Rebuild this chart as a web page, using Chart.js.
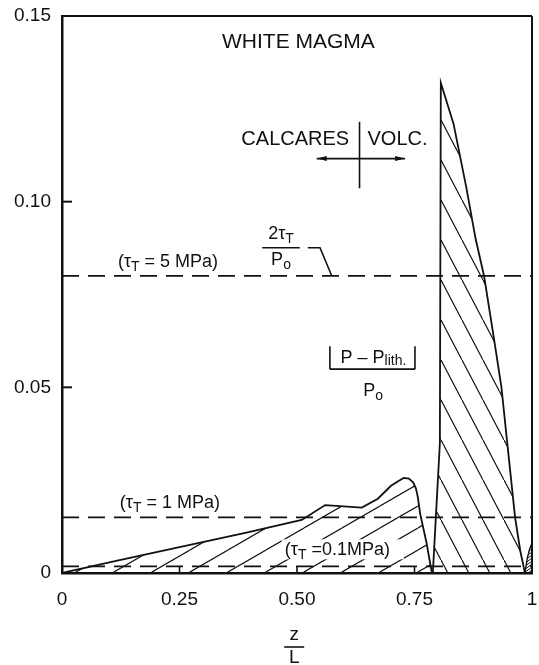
<!DOCTYPE html>
<html>
<head>
<meta charset="utf-8">
<script src="https://cdn.jsdelivr.net/npm/chart.js@4.4.1/dist/chart.umd.min.js"></script>
<style>
  html, body { margin: 0; padding: 0; background: #fff; }
</style>
</head>
<body>
<canvas id="chart" width="539" height="665"></canvas>
<script>
// normalised depth z/L and overpressure |P - Plith.| / Po, calcareous part
const zCalc = [0, 0.12, 0.25, 0.39, 0.51, 0.56, 0.638, 0.672, 0.70, 0.716, 0.727, 0.738, 0.747, 0.753, 0.757, 0.762, 0.775, 0.787];
const pCalc = [0, 0.0034, 0.0070, 0.0108, 0.0143, 0.0183, 0.0176, 0.0200, 0.0235, 0.0248, 0.0256, 0.0254, 0.0244, 0.0228, 0.0205, 0.0160, 0.0085, 0];

// volcanic part (the big spike)
const zVolc = [0.789, 0.804, 0.806, 0.833, 0.860, 0.880, 0.898, 0.918, 0.935, 0.949, 0.964, 0.975, 0.985];
const pVolc = [0, 0.035, 0.132, 0.121, 0.104, 0.090, 0.080, 0.064, 0.050, 0.033, 0.015, 0.006, 0];

// small rise at the top of the conduit
const zTop = [0.985, 0.99, 0.995, 1.0];
const pTop = [0, 0.004, 0.0065, 0.008];

// 2 tauT / Po levels
const tauLevels = [0.08, 0.015, 0.0018];
const tauNames = ['5 MPa', '1 MPa', '0.1 MPa'];

const xTicks = [0, 0.25, 0.5, 0.75, 1];
const yTicks = [0, 0.05, 0.10, 0.15];

const FONT = '"Liberation Sans", Arial, Helvetica, sans-serif';
const INK = '#111';

function toPoints(xs, ys) {
  return xs.map((x, i) => ({ x: x, y: ys[i] }));
}

// hatch tile: lines repeating every w px horizontally and h px vertically
function hatch(w, h, dir, lw) {
  const c = document.createElement('canvas');
  c.width = w; c.height = h;
  const g = c.getContext('2d');
  g.strokeStyle = INK;
  g.lineWidth = lw;
  [-h, 0, h].forEach(dy => {
    g.beginPath();
    if (dir === '/') { g.moveTo(0, h + dy); g.lineTo(w, dy); }
    else { g.moveTo(0, dy); g.lineTo(w, h + dy); }
    g.stroke();
  });
  return g.createPattern(c, 'repeat');
}

// text made of runs, each run: { t, size, dy }
function drawRuns(ctx, x, y, runs, align) {
  let total = 0;
  runs.forEach(r => {
    ctx.font = r.size + 'px ' + FONT;
    r.w = ctx.measureText(r.t).width;
    total += r.w;
  });
  let cx = align === 'center' ? x - total / 2 : (align === 'right' ? x - total : x);
  ctx.textAlign = 'left';
  ctx.textBaseline = 'middle';
  runs.forEach(r => {
    ctx.font = r.size + 'px ' + FONT;
    ctx.fillText(r.t, cx, y + (r.dy || 0));
    cx += r.w;
  });
  return total;
}

function line(ctx, x1, y1, x2, y2, lw) {
  ctx.lineWidth = lw || 1.6;
  ctx.beginPath();
  ctx.moveTo(x1, y1);
  ctx.lineTo(x2, y2);
  ctx.stroke();
}

function arrowHead(ctx, x, y, dir) {
  ctx.beginPath();
  ctx.moveTo(x, y);
  ctx.lineTo(x - dir * 10, y - 2.5);
  ctx.lineTo(x - dir * 10, y + 2.5);
  ctx.closePath();
  ctx.fill();
}

function tauLabel(value) {
  const tight = value.indexOf('0.') === 0;
  return [
    { t: '(τ', size: 18 },
    { t: 'T', size: 14, dy: 5 },
    { t: tight ? ' =' + value.replace(' ', '') + ')' : ' = ' + value + ')', size: 18 }
  ];
}

// white-out behind the 0.1 MPa label so the hatching stops around it
const labelBack = {
  id: 'labelBack',
  afterDatasetDraw(chart, args) {
    if (args.index !== 0) return;
    const ctx = chart.ctx;
    const sx = chart.scales.x, sy = chart.scales.y;
    const x = sx.getPixelForValue(0.474), y = sy.getPixelForValue(0.0061);
    ctx.save();
    ctx.fillStyle = '#fff';
    ctx.fillRect(x - 3, y - 11, 122, 20);
    ctx.restore();
  }
};

const frameAndNotes = {
  id: 'frameAndNotes',
  afterDraw(chart) {
    const ctx = chart.ctx;
    const a = chart.chartArea;
    const sx = chart.scales.x, sy = chart.scales.y;
    const X = v => sx.getPixelForValue(v);
    const Y = v => sy.getPixelForValue(v);
    ctx.save();
    ctx.strokeStyle = INK;
    ctx.fillStyle = INK;

    // top and right edges of the box
    line(ctx, a.left, a.top, a.right, a.top, 2);
    line(ctx, a.right, a.top, a.right, a.bottom, 2);

    // inward tick marks
    yTicks.slice(1, -1).forEach(v => line(ctx, a.left, Y(v), a.left + 10, Y(v), 2));
    xTicks.slice(1, -1).forEach(v => line(ctx, X(v), a.bottom, X(v), a.bottom - 6, 1.6));

    ctx.font = '21px ' + FONT;
    ctx.textAlign = 'center';
    ctx.textBaseline = 'middle';
    ctx.fillText('WHITE MAGMA', X(0.503), Y(0.1430));

    // calcareous / volcanic boundary marker
    ctx.font = '20px ' + FONT;
    ctx.textAlign = 'right';
    ctx.fillText('CALCARES', X(0.611), Y(0.1168));
    ctx.textAlign = 'left';
    ctx.fillText('VOLC.', X(0.650), Y(0.1168));
    line(ctx, X(0.633), Y(0.1215), X(0.633), Y(0.1036), 1.6);
    line(ctx, X(0.542), Y(0.1116), X(0.730), Y(0.1116), 1.6);
    arrowHead(ctx, X(0.542), Y(0.1116), -1);
    arrowHead(ctx, X(0.730), Y(0.1116), 1);

    // labels of the dashed levels
    drawRuns(ctx, X(0.119), Y(0.0838), tauLabel(tauNames[0]), 'left');
    drawRuns(ctx, X(0.123), Y(0.0188), tauLabel(tauNames[1]), 'left');
    drawRuns(ctx, X(0.474), Y(0.0061), tauLabel(tauNames[2]), 'left');

    // 2 tauT / Po with its leader to the 5 MPa line
    const fx = X(0.466), fy = Y(0.0876);
    drawRuns(ctx, fx, fy - 14, [{ t: '2τ', size: 18 }, { t: 'T', size: 14, dy: 5 }], 'center');
    line(ctx, X(0.426), fy, X(0.506), fy, 1.6);
    drawRuns(ctx, fx, fy + 12, [{ t: 'P', size: 18 }, { t: 'o', size: 14, dy: 5 }], 'center');
    ctx.beginPath();
    ctx.lineWidth = 1.6;
    ctx.moveTo(X(0.523), fy);
    ctx.lineTo(X(0.549), fy);
    ctx.lineTo(X(0.574), Y(tauLevels[0]));
    ctx.stroke();

    // |P - Plith.| / Po
    const l = X(0.570), r = X(0.751), ty = Y(0.0578), uy = Y(0.0549);
    drawRuns(ctx, (l + r) / 2 + 1, ty, [{ t: 'P – P', size: 18 }, { t: 'lith.', size: 14, dy: 3 }], 'center');
    line(ctx, l, ty - 12, l, uy, 1.6);
    line(ctx, r, ty - 12, r, uy, 1.6);
    line(ctx, l, uy, r, uy, 1.6);
    drawRuns(ctx, X(0.662), Y(0.0490), [{ t: 'P', size: 18 }, { t: 'o', size: 14, dy: 5 }], 'center');

    // z / L under the axis
    const zx = X(0.494);
    ctx.font = '19px ' + FONT;
    ctx.textAlign = 'center';
    ctx.textBaseline = 'middle';
    ctx.fillText('z', zx, a.bottom + 62);
    line(ctx, zx - 10, a.bottom + 74, zx + 10, a.bottom + 74, 1.6);
    ctx.fillText('L', zx, a.bottom + 85);
    ctx.restore();
  }
};

const levelSets = tauLevels.map(v => ({
  data: [{ x: 0, y: v }, { x: 1, y: v }],
  borderColor: INK,
  borderWidth: 1.8,
  borderDash: [17, 9],
  pointRadius: 0,
  fill: false
}));

new Chart(document.getElementById('chart'), {
  type: 'line',
  data: {
    datasets: [
      {
        data: toPoints(zCalc, pCalc),
        borderColor: INK,
        borderWidth: 1.8,
        backgroundColor: hatch(38, 22, '/', 1.2),
        fill: 'origin',
        pointRadius: 0,
        tension: 0
      },
      {
        data: toPoints(zVolc, pVolc),
        borderColor: INK,
        borderWidth: 1.8,
        backgroundColor: hatch(21, 40, '\\', 1.2),
        fill: 'origin',
        pointRadius: 0,
        tension: 0
      },
      {
        data: toPoints(zTop, pTop),
        borderColor: INK,
        borderWidth: 1.4,
        backgroundColor: hatch(4, 3, '/', 1),
        fill: 'origin',
        pointRadius: 0,
        tension: 0
      }
    ].concat(levelSets)
  },
  options: {
    responsive: false,
    animation: false,
    events: [],
    layout: { padding: { top: 16, right: 7, left: 0, bottom: 0 } },
    plugins: {
      legend: { display: false },
      tooltip: { enabled: false },
      title: { display: false }
    },
    scales: {
      x: {
        type: 'linear',
        min: 0,
        max: 1,
        afterBuildTicks: s => { s.ticks = xTicks.map(v => ({ value: v })); },
        afterFit: s => { s.height = 92; s.paddingLeft = 0; s.paddingRight = 0; },
        grid: { display: false, drawTicks: false },
        border: { display: true, color: INK, width: 2.5 },
        ticks: {
          color: INK,
          padding: 15,
          maxRotation: 0,
          font: { family: FONT, size: 19 },
          callback: v => (v === 0 || v === 1) ? String(v) : v.toFixed(2)
        }
      },
      y: {
        min: 0,
        max: 0.15,
        afterBuildTicks: s => { s.ticks = yTicks.map(v => ({ value: v })); },
        afterFit: s => { s.width = 62; s.paddingTop = 0; s.paddingBottom = 0; },
        grid: { display: false, drawTicks: false },
        border: { display: true, color: INK, width: 2.5 },
        ticks: {
          color: INK,
          padding: 11,
          font: { family: FONT, size: 19 },
          callback: v => v === 0 ? '0' : v.toFixed(2)
        }
      }
    }
  },
  plugins: [labelBack, frameAndNotes]
});
</script>
</body>
</html>
